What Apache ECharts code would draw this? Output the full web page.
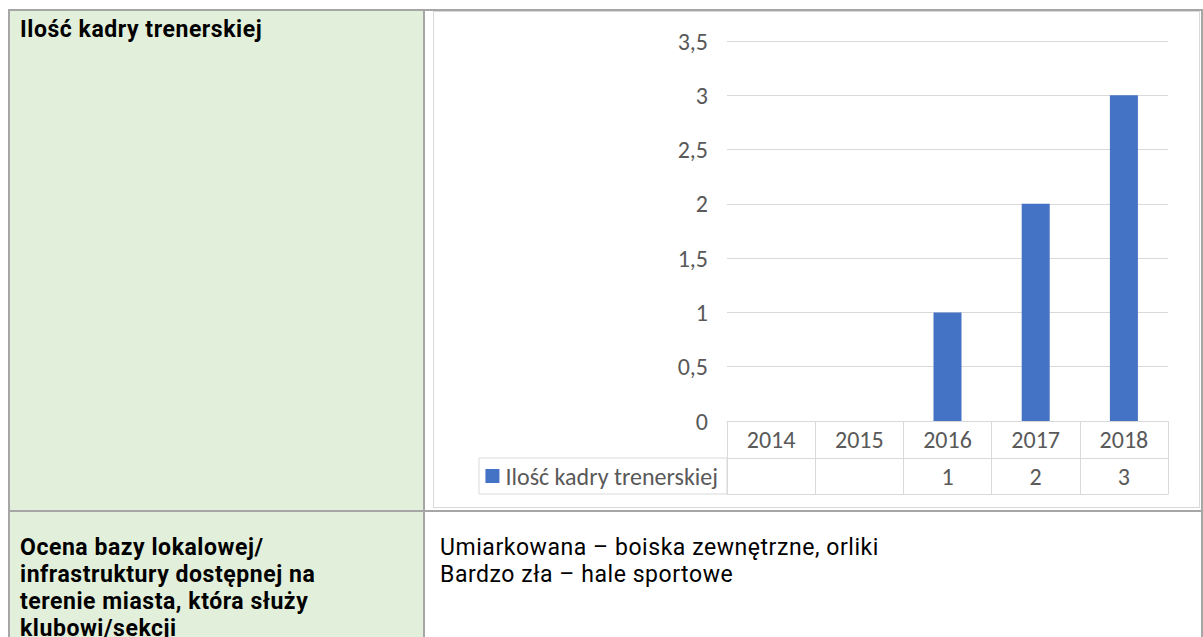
<!DOCTYPE html>
<html lang="pl">
<head>
<meta charset="utf-8">
<script src="https://cdn.jsdelivr.net/npm/echarts@6/dist/echarts.min.js"></script>
<style>
  html, body { margin: 0; padding: 0; background: #fff; }
  body { width: 1203px; height: 637px; overflow: hidden; position: relative; font-family: Roboto, Lato, sans-serif; }
  .line { position: absolute; background: #a6a6a6; }
  .green { position: absolute; background: #e2efda; }
  .txt { position: absolute; font-size: 23px; line-height: 27px; letter-spacing: 0.55px; color: #000; white-space: nowrap; }
  .bold { font-weight: bold; }
  #frame { position: absolute; left: 433px; top: 11px; width: 767px; height: 497px; box-sizing: border-box; border: 1px solid #d9d9d9; }
  #chart { position: absolute; left: 0; top: 0; width: 765px; height: 495px; }
</style>
</head>
<body>
  <div class="green" style="left:10px;top:11px;width:413px;height:499px"></div>
  <div class="green" style="left:10px;top:512px;width:413px;height:125px"></div>
  <div class="line" style="left:8px;top:9px;width:1195px;height:2px"></div>
  <div class="line" style="left:8px;top:9px;width:2px;height:628px"></div>
  <div class="line" style="left:423px;top:9px;width:2px;height:628px"></div>
  <div class="line" style="left:8px;top:510px;width:1195px;height:2px"></div>
  <div class="line" style="left:1201px;top:9px;width:2px;height:628px"></div>

  <div class="txt bold" style="left:20px;top:16px">Ilość kadry trenerskiej</div>
  <div class="txt bold" style="left:20px;top:534px">Ocena bazy lokalowej/<br>infrastruktury dostępnej na<br>terenie miasta, która służy<br>klubowi/sekcji</div>
  <div class="txt" style="left:440px;top:534px">Umiarkowana – boiska zewnętrzne, orliki<br>Bardzo zła – hale sportowe</div>

  <div id="frame"><div id="chart"></div></div>

<script>
const years = ["2014", "2015", "2016", "2017", "2018"];
const trainers = [null, null, 1, 2, 3];
const seriesName = "Ilość kadry trenerskiej";
const yTicks = { min: 0, max: 3.5, interval: 0.5 };

const gridLeft = 293, gridRight = 31, gridTop = 29, gridBottom = 86;
const rowH = 37, tableH = 73, legendCellLeft = 45;
const W = 765, H = 495;
const fs = 24;
const textColor = "#595959", rule = "#d9d9d9", font = "Carlito, Lato, sans-serif";

const chart = echarts.init(document.getElementById("chart"), null, { renderer: "svg" });
chart.setOption({
  animation: false,
  textStyle: { fontFamily: font },
  grid: { left: gridLeft, right: gridRight, top: gridTop, bottom: gridBottom, containLabel: false },
  legend: {
    data: [seriesName],
    right: W - 284,
    top: H - gridBottom + rowH + 6,
    padding: 0,
    icon: "rect",
    itemWidth: 14,
    itemHeight: 14,
    itemGap: 4,
    textStyle: { fontSize: fs, color: textColor, fontFamily: font, padding: [0, 0, 0, 1] }
  },
  xAxis: [
    {
      type: "category", data: years, position: "bottom",
      axisLine: { show: true, lineStyle: { color: rule } },
      axisTick: { show: true, interval: 0, length: tableH, lineStyle: { color: rule } },
      axisLabel: { margin: 6, fontSize: fs, color: textColor, fontFamily: font }
    },
    {
      type: "category", data: years, position: "bottom", offset: rowH,
      axisLine: { show: true, lineStyle: { color: rule } },
      axisTick: { show: false },
      axisLabel: { margin: 6, fontSize: fs, color: textColor, fontFamily: font,
        formatter: (v, i) => trainers[i] == null ? "" : String(trainers[i]) }
    },
    {
      type: "category", data: years, position: "bottom", offset: tableH,
      axisLine: { show: true, lineStyle: { color: rule } },
      axisTick: { show: false }, axisLabel: { show: false }
    }
  ],
  yAxis: {
    type: "value", min: yTicks.min, max: yTicks.max, interval: yTicks.interval,
    axisLine: { show: false }, axisTick: { show: false },
    splitLine: { lineStyle: { color: rule } },
    axisLabel: { margin: 19, fontSize: fs, color: textColor, fontFamily: font,
      formatter: v => String(v).replace(".", ",") }
  },
  graphic: [{
    type: "rect",
    shape: { x: legendCellLeft, y: H - gridBottom + rowH, width: gridLeft - legendCellLeft, height: tableH - rowH },
    style: { fill: "none", stroke: rule, lineWidth: 1 }
  }],
  series: [{
    name: seriesName, type: "bar", xAxisIndex: 0, data: trainers,
    barWidth: 28, itemStyle: { color: "#4472c4" }
  }]
});
</script>
</body>
</html>
